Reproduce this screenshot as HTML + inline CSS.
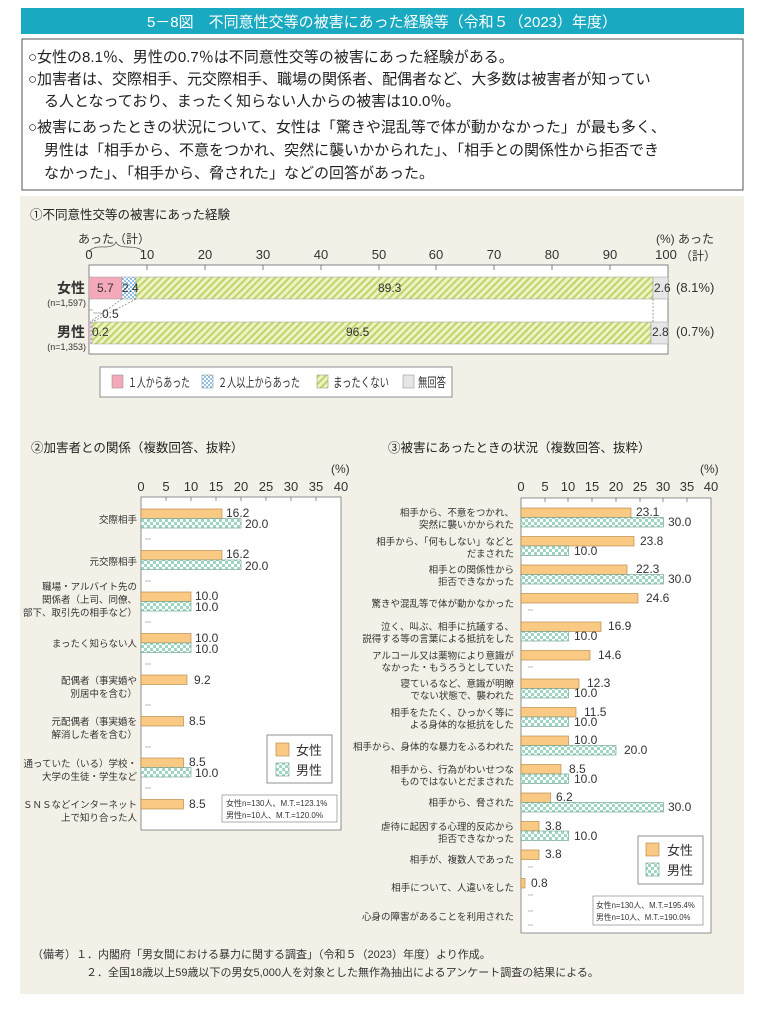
<!DOCTYPE html>
<html><head><meta charset="utf-8"><style>
body{margin:0;background:#fff;}
svg{display:block;font-family:"Liberation Sans","Noto Sans CJK JP",sans-serif;}
</style></head><body>
<svg width="764" height="1024" viewBox="0 0 764 1024" xmlns="http://www.w3.org/2000/svg">
<defs>
<pattern id="chk" width="6" height="6" patternUnits="userSpaceOnUse"><rect width="6" height="6" fill="#fff"/><rect width="3" height="3" fill="#9fd6c2"/><rect x="3" y="3" width="3" height="3" fill="#9fd6c2"/></pattern>
<pattern id="chkb" width="4" height="4" patternUnits="userSpaceOnUse"><rect width="4" height="4" fill="#fff"/><rect width="2" height="2" fill="#8cc0e6"/><rect x="2" y="2" width="2" height="2" fill="#8cc0e6"/></pattern>
<pattern id="hat" width="5" height="5" patternUnits="userSpaceOnUse" patternTransform="rotate(45)"><rect width="5" height="5" fill="#eef3c4"/><rect width="2" height="5" fill="#bfd36a"/></pattern>
</defs>
<rect width="764" height="1024" fill="#fff"/>
<rect x="21" y="8" width="723" height="26" fill="#19a9c1"/>
<text x="382" y="27" font-size="15" fill="#fff" text-anchor="middle">5－8図　不同意性交等の被害にあった経験等（令和５（2023）年度）</text>
<rect x="22" y="39" width="721" height="151" fill="#fff" stroke="#555" stroke-width="1"/>
<g font-size="15" fill="#222">
<text x="28" y="62">○女性の8.1％、男性の0.7％は不同意性交等の被害にあった経験がある。</text>
<text x="28" y="84">○加害者は、交際相手、元交際相手、職場の関係者、配偶者など、大多数は被害者が知ってい</text>
<text x="44" y="106">る人となっており、まったく知らない人からの被害は10.0％。</text>
<text x="28" y="132">○被害にあったときの状況について、女性は「驚きや混乱等で体が動かなかった」が最も多く、</text>
<text x="44" y="155">男性は「相手から、不意をつかれ、突然に襲いかかられた」、「相手との関係性から拒否でき</text>
<text x="44" y="178">なかった」、「相手から、脅された」などの回答があった。</text>
</g>
<rect x="20" y="196" width="724" height="798" fill="#f3f0e7"/>
<!-- chart1 -->
<text x="30" y="219" font-size="12.5" fill="#222">①不同意性交等の被害にあった経験</text>
<text x="78" y="243" font-size="12" fill="#333">あった（計）</text>
<path d="M89 252 Q92 246 105 247 Q114 247 116 242 Q118 247 127 247 Q140 247 144 252" fill="none" stroke="#555" stroke-width="0.8"/>
<text x="656" y="243" font-size="12" fill="#333">(%) あった</text>
<text x="680" y="260" font-size="12" fill="#333">（計）</text>
<g font-size="13" fill="#333" text-anchor="middle">
<text x="89" y="259">0</text><text x="147" y="259">10</text><text x="205" y="259">20</text><text x="263" y="259">30</text><text x="321" y="259">40</text><text x="379" y="259">50</text><text x="436" y="259">60</text><text x="494" y="259">70</text><text x="552" y="259">80</text><text x="610" y="259">90</text><text x="666" y="259">100</text>
</g>
<rect x="89" y="265" width="579" height="89" fill="#fff" stroke="#666" stroke-width="0.8"/>
<g stroke="#666" stroke-width="0.8"><path d="M147 265v5M205 265v5M263 265v5M321 265v5M379 265v5M436 265v5M494 265v5M552 265v5M610 265v5"/></g>
<rect x="89" y="277" width="33" height="22" fill="#f4a9bb" stroke="#999" stroke-width="0.5"/>
<rect x="122" y="277" width="14" height="22" fill="url(#chkb)" stroke="#999" stroke-width="0.5"/>
<rect x="136" y="277" width="517" height="22" fill="url(#hat)" stroke="#999" stroke-width="0.5"/>
<rect x="653" y="277" width="15" height="22" fill="#e6e6e6" stroke="#999" stroke-width="0.5"/>
<rect x="89" y="322" width="1.5" height="22" fill="#f4a9bb"/>
<rect x="90.5" y="322" width="1.2" height="22" fill="url(#chkb)"/>
<rect x="92" y="322" width="559" height="22" fill="url(#hat)" stroke="#999" stroke-width="0.5"/>
<rect x="651" y="322" width="17" height="22" fill="#e6e6e6" stroke="#999" stroke-width="0.5"/>
<path d="M122 299L90 322M136 299L92 322M653 299V322" stroke="#666" stroke-width="0.6" stroke-dasharray="2 1.5" fill="none"/>
<path d="M89 310h4M93 313h8" stroke="#666" stroke-width="0.6"/>
<g font-size="12" fill="#333">
<text x="97" y="292">5.7</text><text x="122" y="292">2.4</text><text x="378" y="292">89.3</text><text x="654" y="292">2.6</text>
<text x="92" y="336">0.2</text><text x="346" y="336">96.5</text><text x="652" y="336">2.8</text>
<text x="102" y="318">0.5</text>
<text x="676" y="292" font-size="13">(8.1%)</text><text x="676" y="336" font-size="13">(0.7%)</text>
</g>
<text x="85" y="293" font-size="14" font-weight="bold" fill="#333" text-anchor="end">女性</text>
<text x="86" y="306" font-size="9" fill="#333" text-anchor="end">(n=1,597)</text>
<text x="85" y="337" font-size="14" font-weight="bold" fill="#333" text-anchor="end">男性</text>
<text x="86" y="350" font-size="9" fill="#333" text-anchor="end">(n=1,353)</text>
<rect x="100" y="367" width="352" height="30" fill="#fff" stroke="#777" stroke-width="0.8"/>
<g font-size="13" fill="#333">
<rect x="112" y="375" width="11" height="13" fill="#f4a9bb" stroke="#888" stroke-width="0.5"/><text x="128" y="387" textLength="62" lengthAdjust="spacingAndGlyphs">１人からあった</text>
<rect x="202" y="375" width="11" height="13" fill="url(#chkb)" stroke="#888" stroke-width="0.5"/><text x="218" y="387" textLength="82" lengthAdjust="spacingAndGlyphs">２人以上からあった</text>
<rect x="317" y="375" width="11" height="13" fill="url(#hat)" stroke="#888" stroke-width="0.5"/><text x="333" y="387" textLength="56" lengthAdjust="spacingAndGlyphs">まったくない</text>
<rect x="403" y="375" width="11" height="13" fill="#e6e6e6" stroke="#888" stroke-width="0.5"/><text x="418" y="387" textLength="28" lengthAdjust="spacingAndGlyphs">無回答</text>
</g>
<!-- chart2 -->
<text x="31" y="452" font-size="12.5" fill="#222">②加害者との関係（複数回答、抜粋）</text>
<text x="331" y="473" font-size="12" fill="#333">(%)</text>
<g font-size="13" fill="#333" text-anchor="middle">
<text x="141" y="491">0</text><text x="166" y="491">5</text><text x="191" y="491">10</text><text x="216" y="491">15</text><text x="241" y="491">20</text><text x="266" y="491">25</text><text x="291" y="491">30</text><text x="316" y="491">35</text><text x="341" y="491">40</text>
</g>
<rect x="141" y="497" width="200" height="333" fill="#fff" stroke="#777" stroke-width="0.8"/>
<g stroke="#777" stroke-width="0.8"><path d="M166 497v4M191 497v4M216 497v4M241 497v4M266 497v4M291 497v4M316 497v4"/></g>
<g stroke="#777" stroke-width="0.6"><path d="M145 539h6M145 581h6M145 622h6M145 664h6M145 705h6M145 747h6M145 788h6"/></g>
<g fill="#fac983" stroke="#b08040" stroke-width="0.6">
<rect x="141" y="509" width="81" height="9.5"/><rect x="141" y="550.5" width="81" height="9.5"/><rect x="141" y="592" width="50" height="9.5"/><rect x="141" y="633.5" width="50" height="9.5"/><rect x="141" y="675" width="46" height="9.5"/><rect x="141" y="716.5" width="42.5" height="9.5"/><rect x="141" y="758" width="42.5" height="9.5"/><rect x="141" y="799.5" width="42.5" height="9.5"/>
</g>
<g fill="url(#chk)" stroke="#6a9a8a" stroke-width="0.6">
<rect x="141" y="518.5" width="100" height="9.5"/><rect x="141" y="560" width="100" height="9.5"/><rect x="141" y="601.5" width="50" height="9.5"/><rect x="141" y="643" width="50" height="9.5"/><rect x="141" y="767.5" width="50" height="9.5"/>
</g>
<g font-size="12" fill="#333">
<text x="226" y="517">16.2</text><text x="245" y="528">20.0</text><text x="226" y="558">16.2</text><text x="245" y="570">20.0</text>
<text x="195" y="600">10.0</text><text x="195" y="611">10.0</text><text x="195" y="642">10.0</text><text x="195" y="653">10.0</text>
<text x="194" y="684">9.2</text><text x="189" y="725">8.5</text><text x="189" y="766">8.5</text><text x="195" y="777">10.0</text><text x="189" y="808">8.5</text>
</g>
<g font-size="9.5" fill="#333" text-anchor="end">
<text x="137" y="523">交際相手</text>
<text x="137" y="565">元交際相手</text>
<text x="137" y="590">職場・アルバイト先の</text><text x="137" y="603">関係者（上司、同僚、</text><text x="137" y="616">部下、取引先の相手など）</text>
<text x="137" y="647">まったく知らない人</text>
<text x="137" y="684">配偶者（事実婚や</text><text x="137" y="697">別居中を含む）</text>
<text x="137" y="725">元配偶者（事実婚を</text><text x="137" y="738">解消した者を含む）</text>
<text x="137" y="767">通っていた（いる）学校・</text><text x="137" y="780">大学の生徒・学生など</text>
<text x="137" y="808">ＳＮＳなどインターネット</text><text x="137" y="821">上で知り合った人</text>
</g>
<rect x="267" y="735" width="65" height="48" fill="#fff" stroke="#777" stroke-width="0.8"/>
<rect x="276" y="743" width="13" height="13" fill="#fac983" stroke="#b08040" stroke-width="0.6"/><text x="296" y="755" font-size="13" fill="#333">女性</text>
<rect x="276" y="763" width="13" height="13" fill="url(#chk)" stroke="#6a9a8a" stroke-width="0.6"/><text x="296" y="775" font-size="13" fill="#333">男性</text>
<rect x="222" y="795" width="115" height="27" fill="#fff" stroke="#777" stroke-width="0.6"/>
<text x="226" y="806" font-size="8" fill="#333">女性n=130人、M.T.=123.1%</text><text x="226" y="818" font-size="8" fill="#333">男性n=10人、M.T.=120.0%</text>
<!-- chart3 -->
<text x="388" y="452" font-size="12.5" fill="#222">③被害にあったときの状況（複数回答、抜粋）</text>
<text x="700" y="473" font-size="12" fill="#333">(%)</text>
<g font-size="13" fill="#333" text-anchor="middle">
<text x="521" y="491">0</text><text x="545" y="491">5</text><text x="568" y="491">10</text><text x="592" y="491">15</text><text x="616" y="491">20</text><text x="640" y="491">25</text><text x="663" y="491">30</text><text x="687" y="491">35</text><text x="711" y="491">40</text>
</g>
<rect x="521" y="498" width="190" height="435" fill="#fff" stroke="#777" stroke-width="0.8"/>
<g stroke="#777" stroke-width="0.8"><path d="M545 498v4M568 498v4M592 498v4M616 498v4M640 498v4M663 498v4M687 498v4"/></g>
<g fill="#fac983" stroke="#b08040" stroke-width="0.6">
<rect x="521" y="508" width="110" height="9.5"/><rect x="521" y="536.5" width="113" height="9.5"/><rect x="521" y="565" width="106" height="9.5"/><rect x="521" y="593.5" width="117" height="9.5"/><rect x="521" y="622" width="80" height="9.5"/><rect x="521" y="650.5" width="69" height="9.5"/><rect x="521" y="679" width="58" height="9.5"/><rect x="521" y="707.5" width="55" height="9.5"/><rect x="521" y="736" width="47.5" height="9.5"/><rect x="521" y="764.5" width="40" height="9.5"/><rect x="521" y="793" width="29.5" height="9.5"/><rect x="521" y="821.5" width="18" height="9.5"/><rect x="521" y="850" width="18" height="9.5"/><rect x="521" y="878.5" width="4" height="9.5"/>
</g>
<g fill="url(#chk)" stroke="#6a9a8a" stroke-width="0.6">
<rect x="521" y="517.5" width="142.5" height="9.5"/><rect x="521" y="546" width="47.5" height="9.5"/><rect x="521" y="574.5" width="142.5" height="9.5"/><rect x="521" y="631.5" width="47.5" height="9.5"/><rect x="521" y="688.5" width="47.5" height="9.5"/><rect x="521" y="717" width="47.5" height="9.5"/><rect x="521" y="745.5" width="95" height="9.5"/><rect x="521" y="774" width="47.5" height="9.5"/><rect x="521" y="802.5" width="142.5" height="9.5"/><rect x="521" y="831" width="47.5" height="9.5"/>
</g>
<g stroke="#777" stroke-width="0.6"><path d="M528 610h5M528 667h5M528 867h5M528 895h5M528 911h5M528 925h5"/></g>
<g font-size="12" fill="#333">
<text x="636" y="516">23.1</text><text x="668" y="526">30.0</text><text x="640" y="545">23.8</text><text x="574" y="555">10.0</text>
<text x="636" y="573">22.3</text><text x="668" y="583">30.0</text><text x="646" y="602">24.6</text>
<text x="608" y="630">16.9</text><text x="574" y="640">10.0</text><text x="598" y="659">14.6</text>
<text x="587" y="687">12.3</text><text x="574" y="697">10.0</text><text x="584" y="716">11.5</text><text x="574" y="726">10.0</text>
<text x="574" y="744">10.0</text><text x="624" y="754">20.0</text><text x="569" y="773">8.5</text><text x="574" y="783">10.0</text>
<text x="556" y="801">6.2</text><text x="668" y="811">30.0</text><text x="545" y="830">3.8</text><text x="574" y="840">10.0</text>
<text x="545" y="858">3.8</text><text x="531" y="887">0.8</text>
</g>
<g font-size="9.5" fill="#333" text-anchor="end">
<text x="514" y="516">相手から、不意をつかれ、</text><text x="514" y="528">突然に襲いかかられた</text>
<text x="514" y="545">相手から、「何もしない」などと</text><text x="514" y="557">だまされた</text>
<text x="514" y="573">相手との関係性から</text><text x="514" y="585">拒否できなかった</text>
<text x="514" y="607">驚きや混乱等で体が動かなかった</text>
<text x="514" y="630">泣く、叫ぶ、相手に抗議する、</text><text x="514" y="642">説得する等の言葉による抵抗をした</text>
<text x="514" y="659">アルコール又は薬物により意識が</text><text x="514" y="671">なかった・もうろうとしていた</text>
<text x="514" y="687">寝ているなど、意識が明瞭</text><text x="514" y="699">でない状態で、襲われた</text>
<text x="514" y="716">相手をたたく、ひっかく等に</text><text x="514" y="728">よる身体的な抵抗をした</text>
<text x="514" y="750">相手から、身体的な暴力をふるわれた</text>
<text x="514" y="773">相手から、行為がわいせつな</text><text x="514" y="785">ものではないとだまされた</text>
<text x="514" y="806">相手から、脅された</text>
<text x="514" y="830">虐待に起因する心理的反応から</text><text x="514" y="842">拒否できなかった</text>
<text x="514" y="863">相手が、複数人であった</text>
<text x="514" y="891">相手について、人違いをした</text>
<text x="514" y="920">心身の障害があることを利用された</text>
</g>
<rect x="638" y="836" width="65" height="48" fill="#fff" stroke="#777" stroke-width="0.8"/>
<rect x="646" y="843" width="13" height="13" fill="#fac983" stroke="#b08040" stroke-width="0.6"/><text x="667" y="855" font-size="13" fill="#333">女性</text>
<rect x="646" y="863" width="13" height="13" fill="url(#chk)" stroke="#6a9a8a" stroke-width="0.6"/><text x="667" y="875" font-size="13" fill="#333">男性</text>
<rect x="593" y="896" width="110" height="29" fill="#fff" stroke="#777" stroke-width="0.6"/>
<text x="596" y="908" font-size="7.8" fill="#333">女性n=130人、M.T.=195.4%</text><text x="596" y="920" font-size="7.8" fill="#333">男性n=10人、M.T.=190.0%</text>
<!-- notes -->
<g font-size="11" fill="#333">
<text x="32" y="958">（備考）１．内閣府「男女間における暴力に関する調査」（令和５（2023）年度）より作成。</text>
<text x="86" y="976">２．全国18歳以上59歳以下の男女5,000人を対象とした無作為抽出によるアンケート調査の結果による。</text>
</g>
</svg>
</body></html>
